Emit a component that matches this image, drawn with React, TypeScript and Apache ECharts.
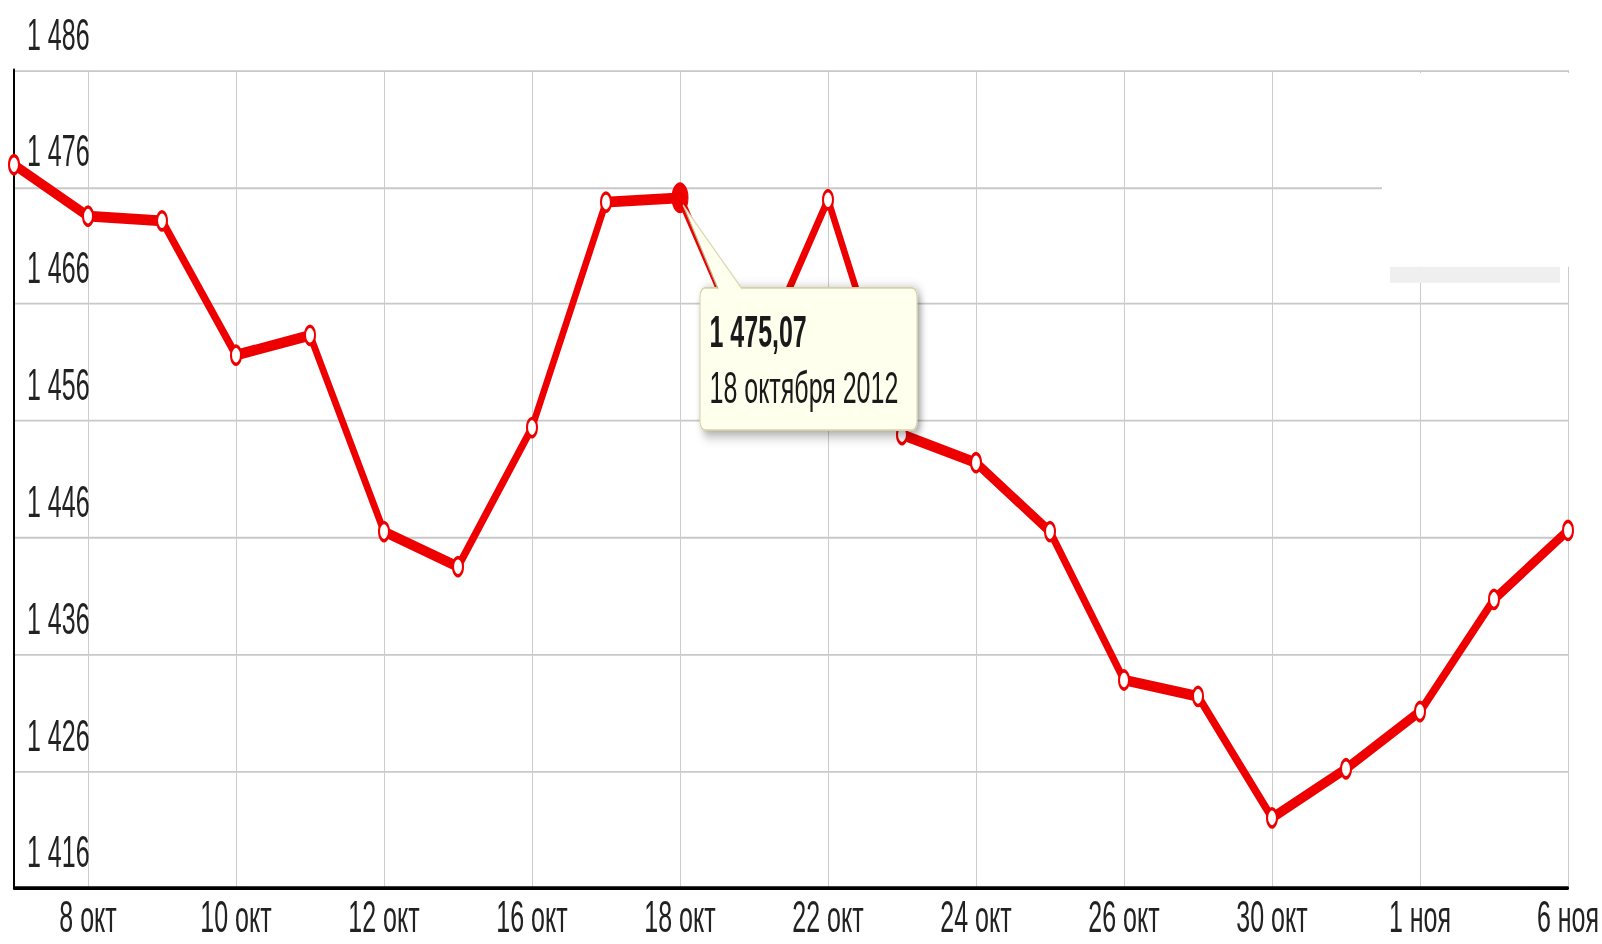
import React, { useEffect, useRef } from "react";
import * as echarts from "echarts";

// ---- data ----
const categories: string[] = [
  "5 окт", "8 окт", "9 окт", "10 окт", "11 окт", "12 окт", "15 окт", "16 окт",
  "17 окт", "18 окт", "19 окт", "22 окт", "23 окт", "24 окт", "25 окт", "26 окт",
  "29 окт", "30 окт", "31 окт", "1 ноя", "2 ноя", "6 ноя",
];
const values: number[] = [
  1477.9, 1473.5, 1473.1, 1461.6, 1463.3, 1446.5, 1443.5, 1455.4,
  1474.7, 1475.07, 1460.4, 1474.9, 1454.8, 1452.4, 1446.5, 1433.8,
  1432.4, 1422.0, 1426.2, 1431.1, 1440.7, 1446.6,
];
const yMin = 1416;
const yMax = 1486;
const yStep = 10;
const highlightIndex = 9;
const highlightDate = "18 октября 2012";

// ---- layout ----
const W = 1602;
const H = 524;
const SY = 944 / H;
const FONT = '"Liberation Sans", Arial, sans-serif';
const RED = "#ee0000";

function thousands(s: string): string {
  return s.length > 3 ? s.slice(0, s.length - 3) + " " + s.slice(-3) : s;
}
function fmtInt(v: number): string {
  return thousands(String(Math.round(v)));
}
function fmtDec(v: number): string {
  const [i, d] = v.toFixed(2).split(".");
  return thousands(i) + "," + d;
}

export default function App() {
  const ref = useRef<HTMLDivElement>(null);

  useEffect(() => {
    if (!ref.current) return;
    const chart = echarts.init(ref.current, null, { renderer: "svg", width: W, height: H });
    const everyOther = (index: number) => index % 2 === 1;

    chart.setOption({
      animation: false,
      backgroundColor: "#ffffff",
      grid: {
        left: 14,
        right: 34,
        top: 38.9,
        bottom: 31.1,
        containLabel: false,
        outerBoundsMode: "none",
      },
      xAxis: {
        type: "category",
        data: categories,
        boundaryGap: false,
        axisLine: { show: true, lineStyle: { color: "#000", width: 2 } },
        axisTick: { show: false },
        axisLabel: {
          interval: everyOther,
          fontSize: 25,
          fontFamily: FONT,
          color: "#222",
          margin: 16,
          lineHeight: 20,
          verticalAlign: "middle",
        },
        splitLine: {
          show: true,
          interval: everyOther,
          lineStyle: { color: "#cccccc", width: 1 },
        },
      },
      yAxis: {
        type: "value",
        min: yMin,
        max: yMax,
        interval: yStep,
        axisLine: { show: true, lineStyle: { color: "#000", width: 2 } },
        axisTick: { show: false },
        axisLabel: {
          inside: true,
          margin: 13,
          fontSize: 25,
          fontFamily: FONT,
          color: "#222",
          verticalAlign: "bottom",
          lineHeight: 40,
          formatter: (v: number) => fmtInt(v),
        },
        splitLine: { show: true, lineStyle: { color: "#c8c8c8", width: 1 } },
      },
      series: [
        {
          type: "line",
          data: values.map((v, i) =>
            i === highlightIndex
              ? { value: v, symbolSize: 16, itemStyle: { color: RED, borderColor: RED, borderWidth: 1 } }
              : v
          ),
          symbol: "circle",
          symbolSize: 10,
          showAllSymbol: true,
          lineStyle: { color: RED, width: 6 },
          itemStyle: { color: "#ffffff", borderColor: RED, borderWidth: 2 },
          z: 5,
        },
      ],
    });

    const [px, py] = chart.convertToPixel({ seriesIndex: 0 }, [highlightIndex, values[highlightIndex]]) as number[];
    const cream = "#ffffee";
    chart.setOption({
      graphic: [
        {
          type: "rect",
          z: 50,
          shape: { x: 1390, y: 148, width: 170, height: 9 },
          style: { fill: "#efefef" },
        },
        {
          type: "rect",
          z: 51,
          shape: { x: 1382, y: 40.5, width: 187, height: 107.5 },
          style: { fill: "#ffffff" },
        },
        {
          type: "group",
          x: px,
          y: py,
          z: 100,
          children: [
            {
              type: "rect",
              z: 100,
              shape: { x: 20, y: 50, width: 217, height: 79, r: 5 },
              style: {
                fill: cream,
                stroke: "#d6d0a6",
                lineWidth: 1,
                shadowBlur: 7,
                shadowColor: "rgba(0,0,0,0.4)",
                shadowOffsetX: 3,
                shadowOffsetY: 2,
              },
            },
            {
              type: "polygon",
              z: 101,
              shape: { points: [[3, 4], [38, 51], [62, 51]] },
              style: { fill: cream },
            },
            {
              type: "polyline",
              z: 102,
              shape: { points: [[3, 4], [38, 50.5]] },
              style: { stroke: "#b5af8a", lineWidth: 1, fill: null },
            },
            {
              type: "polyline",
              z: 102,
              shape: { points: [[3, 4], [62, 50.5]] },
              style: { stroke: "#ddd8b6", lineWidth: 1, fill: null },
            },
            {
              type: "text",
              z: 103,
              style: {
                text: fmtDec(values[highlightIndex]),
                x: 29.5,
                y: 74,
                fontSize: 25,
                fontWeight: "bold",
                fontFamily: FONT,
                fill: "#1a1a1a",
                verticalAlign: "middle",
                align: "left",
              },
            },
            {
              type: "text",
              z: 103,
              style: {
                text: highlightDate,
                x: 29.5,
                y: 105.6,
                fontSize: 25,
                fontFamily: FONT,
                fill: "#1a1a1a",
                verticalAlign: "middle",
                align: "left",
              },
            },
          ],
        },
      ],
    });

    return () => chart.dispose();
  }, []);

  return (
    <div
      style={{
        position: "absolute",
        left: 0,
        top: 0,
        width: W,
        height: 944,
        overflow: "hidden",
        background: "#ffffff",
      }}
    >
      <div
        ref={ref}
        style={{ width: W, height: H, transform: `scaleY(${SY})`, transformOrigin: "0 0" }}
      />
    </div>
  );
}
